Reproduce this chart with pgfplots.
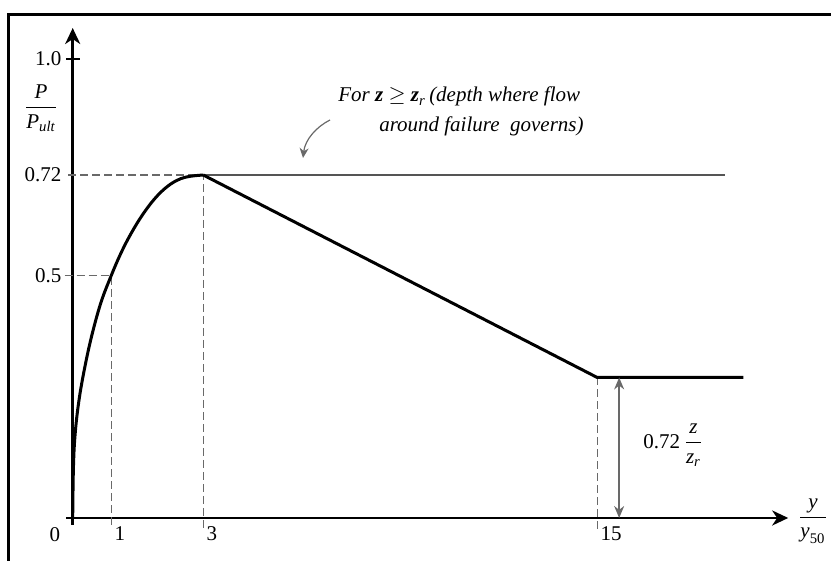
\documentclass[border=0pt]{standalone}
\usepackage{amsmath}
\usepackage{fontspec}
\setmainfont{Liberation Serif}
\usepackage{pgfplots}
\pgfplotsset{compat=1.18}
\usetikzlibrary{arrows.meta}

\definecolor{guide}{RGB}{105,105,105}
\definecolor{refline}{RGB}{85,85,85}

\begin{document}
\begin{tikzpicture}[font=\fontsize{10.5}{12.5}\selectfont]
\useasboundingbox (0,0) rectangle (415.5pt,280.5pt);
\begin{axis}[
  at={(33.1pt,18pt)}, anchor=south west,
  scale only axis, width=361pt, height=248.5pt,
  % schematic (piecewise linear) spacing of the y/y50 and P/Pult axes
  x coord trafo/.code={\pgfmathparse{38.5*min(#1,1)+46*max(min(#1,3)-1,0)+32.83*max(#1-3,0)}},
  y coord trafo/.code={\pgfmathparse{484.6*min(#1,0.5)+457.7*max(min(#1,0.72)-0.5,0)+414.3*max(#1-0.72,0)}},
  xmin=-0.16883, xmax=20.819, ymin=-0.014445, ymax=1.07481,
  axis lines=middle,
  every inner x axis line/.append style={line width=1.4pt,-{Stealth[length=8pt,width=7.5pt,inset=2.5pt]}},
  every inner y axis line/.append style={line width=1.4pt,-{Stealth[length=8pt,width=7.5pt,inset=2.5pt]}},
  major tick length=0pt, tick style={draw=none},
  xtick={1,3,15}, xticklabels={1,3,15},
  ytick={0.5,0.72,1}, yticklabels={0.5\hspace{4.5pt},0.72,1.0},
  xticklabel style={anchor=north west, inner sep=0pt, xshift=1.5pt, yshift=-4pt},
  yticklabel style={anchor=east, inner sep=0pt, xshift=-5.5pt},
  clip=false,
]
% guide lines
\addplot[guide, line width=0.6pt, dash pattern=on 4pt off 2pt] coordinates {(-0.21,0.5) (1,0.5) (1,-0.022)};
\addplot[guide, line width=0.6pt, dash pattern=on 4pt off 2pt] coordinates {(-0.12,0.72) (3,0.72) (3,-0.022)};
\addplot[guide, line width=0.6pt, dash pattern=on 4pt off 2pt] coordinates {(15,0.29) (15,-0.025)};
% level for z >= z_r
\addplot[refline, line width=0.6pt] coordinates {(3,0.72) (18.9,0.72)};
% p-y curve, cubic-parabola part
\addplot[black, line width=1.5pt, smooth, tension=0.6] coordinates {
  (0,0) (0.018,0.101) (0.060,0.170) (0.156,0.239) (0.304,0.307)
  (0.494,0.376) (0.735,0.445) (1,0.5) (1.185,0.5435) (1.380,0.5828)
  (1.620,0.6238) (1.859,0.6576) (2.076,0.6821) (2.293,0.7002) (2.511,0.7120)
  (2.728,0.7173) (3,0.72)};
% degradation and residual part
\addplot[black, line width=1.5pt, line join=round] coordinates {(3,0.72) (15,0.29) (19.45,0.29)};
% tick at 1.0
\draw[black, line width=0.8pt] (axis cs:-0.17,1) -- (axis cs:0.19,1);
% residual resistance dimension
\draw[guide, line width=0.7pt, {Stealth[length=6pt,width=5pt]}-{Stealth[length=6pt,width=5pt]}]
  (axis cs:15.67,0.29) -- (axis cs:15.67,0);
\end{axis}
\begin{scope}[shift={(0pt,280.5pt)}, x=0.5pt, y=-0.5pt]
\draw[line width=1.5pt] (8.3,561) -- (8.3,14.3) -- (831,14.3);
\node at (41,108) {$\dfrac{\textit{P}}{\textit{P}_{\textit{ult}}}$};
\node at (813,521) {$\dfrac{\textit{y}}{\textit{y}_{\text{50}}}$};
\node at (55,535) {0};
\node[anchor=west, inner sep=0pt] at (643,445) {0.72\,$\dfrac{\textit{z}}{\textit{z}_{\textit{r}}}$};
\node[anchor=base west, inner sep=0pt] at (338,102) {\textit{For \textbf{z}} $\geq$ \textbf{\textit{z}}$_{\textit{r}}$\,\textit{(depth where flow}};
\node[anchor=base east, inner sep=0pt] at (584,132) {\textit{around failure\ \ governs)}};
\draw[guide, line width=0.6pt, -{Stealth[length=5pt,width=4.5pt]}] (330,120) .. controls (316,127) and (305,140) .. (303,158);
\end{scope}
\end{tikzpicture}
\end{document}
